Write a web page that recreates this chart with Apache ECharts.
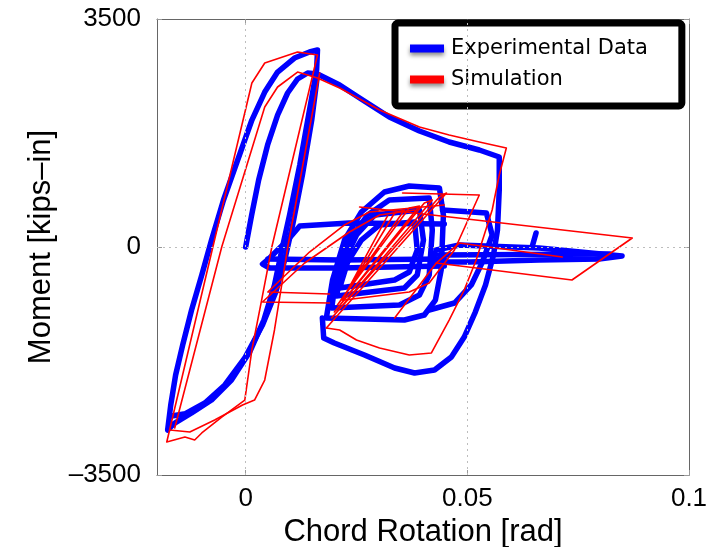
<!DOCTYPE html>
<html>
<head>
<meta charset="utf-8">
<script src="https://cdn.jsdelivr.net/npm/echarts@6/dist/echarts.min.js"></script>
<style>
  html, body { margin: 0; padding: 0; background: #fff; }
  #chart { width: 726px; height: 547px; }
</style>
</head>
<body>
<div id="chart"></div>
<script>
// --- Axis ticks ---
const xTicks = [0, 0.05, 0.1];
const yTicks = [-3500, 0, 3500];

// --- Experimental data (rotation rad, moment kips-in), traced segments ---
const expRise = [
  [0, 0], [0.00135, 491], [0.00293, 1028], [0.00495, 1566], [0.0072, 2026], [0.00946, 2364],
  [0.0117, 2579], [0.01396, 2671], [0.0162, 2656], [0.0212, 2487], [0.0257, 2287], [0.0324, 1996],
  [0.0392, 1781], [0.0459, 1612], [0.0527, 1489], [0.0572, 1382], [0.0572, 875], [0.0568, 261],
  [0.0559, -123], [0.0541, -583], [0.0518, -998], [0.0493, -1382], [0.0464, -1689], [0.0426, -1888],
  [0.0381, -1934], [0.0336, -1857], [0.0268, -1658], [0.0200, -1474], [0.0176, -1397], [0.0173, -1090]
];
const expBigLoop = [
  [0.0162, 3024], [0.016, 2717], [0.0144, 2103], [0.0122, 1259], [0.0099, 491], [0.0083, 0],
  [0.0065, -583], [0.0041, -1121], [0.0009, -1612], [-0.0032, -2042], [-0.0077, -2349],
  [-0.0122, -2548], [-0.016, -2702], [-0.0176, -2809], [-0.0169, -2425], [-0.0158, -1965],
  [-0.0142, -1504], [-0.0122, -967], [-0.0099, -430], [-0.0077, 107], [-0.005, 721],
  [-0.0018, 1335], [0.0014, 1949], [0.0043, 2379], [0.0072, 2686], [0.011, 2901],
  [0.0144, 2993], [0.0162, 3024]
];
const expDescent = [
  [0.0162, 2640], [0.0149, 1949], [0.0128, 1105], [0.0106, 338], [0.0088, -200], [0.0068, -691],
  [0.0038, -1197], [-0.0002, -1704], [-0.0047, -2118], [-0.0092, -2395], [-0.0137, -2563],
  [-0.0167, -2594], [-0.0126, -2548]
];
const expPinchLeft = [
  [0.0448, 353], [0.0234, 368], [0.0122, 322], [0.0095, 107], [0.0054, -169], [0.0038, -261],
  [0.0054, -322], [0.0212, -322], [0.0448, -292]
];
const expPinchLeft2 = [[0.005, -184], [0.0212, -200], [0.0448, -184]];
const expPinchRight = [
  [0.0421, -230], [0.043, -46], [0.0482, 31], [0.0662, -15], [0.0849, -138], [0.0797, -184],
  [0.0662, -200], [0.0505, -230], [0.0421, -230]
];
const expPinchRight2 = [[0.0437, -123], [0.0822, -107]];
const expSpike = [[0.0646, 0], [0.0655, 215]];
const expRightInner = [
  [0.0444, 568], [0.0543, 522], [0.0556, 184], [0.0534, -230], [0.0509, -583], [0.0471, -860],
  [0.0414, -967]
];
const expMid1 = [
  [0.0182, -1090], [0.0196, -507], [0.0223, 107], [0.0261, 537], [0.0313, 844], [0.0369, 936],
  [0.0437, 906], [0.0446, 491], [0.0441, -353], [0.0428, -814], [0.0403, -1044], [0.0358, -1121],
  [0.0182, -1090]
];
const expMid2 = [
  [0.0194, -936], [0.0205, -430], [0.0234, 107], [0.0275, 491], [0.0324, 721], [0.0414, 752],
  [0.0421, 261], [0.0414, -430], [0.0392, -737], [0.0347, -890], [0.0194, -936]
];
const expMid3 = [
  [0.0205, -752], [0.0218, -276], [0.025, 184], [0.0291, 491], [0.0392, 568], [0.0401, 107],
  [0.0387, -430], [0.0358, -629], [0.0205, -752]
];
const expMid4 = [
  [0.0212, -629], [0.023, -230], [0.0261, 107], [0.0302, 338], [0.0381, 384], [0.0387, -46],
  [0.0369, -384], [0.0336, -507], [0.0212, -629]
];

// --- Simulation (rotation rad, moment kips-in), traced segments ---
const simLoop1 = [
  [-0.0178, -2993], [-0.0074, 0], [0.0014, 2517], [0.0043, 2824], [0.0117, 2993], [0.0162, 2947],
  [0.0059, 0], [0.0036, -814], [0.0014, -1581], [-0.0002, -2349], [-0.0054, -2610],
  [-0.0099, -2855], [-0.0115, -2963], [-0.0137, -2917], [-0.0178, -2993]
];
const simLoop2 = [
  [-0.016, -2778], [-0.0054, 0], [0.0043, 2149], [0.0072, 2456], [0.0117, 2686], [0.0162, 2594],
  [0.0212, 2441], [0.0302, 2103], [0.0392, 1842], [0.0459, 1719], [0.0527, 1612], [0.0588, 1520],
  [0.0572, 1105], [0.0556, 568], [0.0538, 184], [0.052, -200], [0.0493, -660], [0.0459, -1121],
  [0.0419, -1627], [0.0369, -1658], [0.0302, -1550], [0.025, -1428], [0.0212, -1274], [0.0182, -1243]
];
const simDescent = [
  [0.0167, 2671], [0.0095, 0], [0.0065, -1274], [0.0043, -2042], [0.002, -2349], [-0.0007, -2425],
  [-0.007, -2656], [-0.0126, -2840], [-0.0171, -2809]
];
const simPinch1 = [[0.0189, -721], [0.005, -691], [0.0144, -77], [0.0223, 338], [0.0279, 537], [0.0448, 645]];
const simPinch2 = [[0.0189, -860], [0.0038, -844], [0.0133, -246], [0.0234, 230], [0.0302, 491], [0.0381, 568]];
const simFan = [
  [0.0182, -1243], [0.0453, 829], [0.0437, 768], [0.0194, -1090], [0.0421, 721], [0.0403, 675],
  [0.02, -998], [0.0392, 629], [0.0369, 599], [0.0207, -890], [0.0358, 568], [0.0336, 522],
  [0.0218, -814], [0.032, 476]
];
const simUpper = [[0.0354, 829], [0.0527, 798], [0.0471, -46], [0.0414, -553], [0.0369, -691], [0.0223, -814]];
const simRight = [[0.0336, -1090], [0.043, -246], [0.0736, -507], [0.0872, 138], [0.0421, 491], [0.0257, 614]];
const simRight2 = [[0.043, -246], [0.0482, 61], [0.0714, -154]];

const expSegments = [expRise, expBigLoop, expDescent, expPinchLeft, expPinchLeft2, expPinchRight,
  expPinchRight2, expSpike, expRightInner, expMid1, expMid2, expMid3, expMid4];
const simSegments = [simLoop1, simLoop2, simDescent, simPinch1, simPinch2, simFan, simUpper,
  simRight, simRight2];

const chart = echarts.init(document.getElementById('chart'));
const fontFamily = '"Liberation Sans", Arial, sans-serif';

function lineSeries(name, data, color, width, z) {
  return {
    name: name,
    type: 'line',
    data: data,
    showSymbol: false,
    symbol: 'none',
    smooth: false,
    silent: true,
    z: z,
    lineStyle: { color: color, width: width, cap: 'round', join: 'round' },
    itemStyle: { color: color }
  };
}

const series = [];
// dotted grid lines at tick positions
series.push({
  type: 'line',
  data: [],
  z: 0,
  silent: true,
  markLine: {
    silent: true,
    symbol: 'none',
    animation: false,
    label: { show: false },
    lineStyle: { color: '#bdbdbd', type: [2, 4], width: 1 },
    data: xTicks.slice(0, 2).map(v => ({ xAxis: v })).concat([{ yAxis: 0 }])
  }
});
expSegments.forEach(seg => series.push(lineSeries('Experimental Data', seg, '#0000ff', 5.5, 2)));
simSegments.forEach(seg => series.push(lineSeries('Simulation', seg, '#ff0000', 1.6, 3)));

const option = {
  animation: false,
  backgroundColor: '#fff',
  grid: { left: 157, right: 37, top: 19, bottom: 72, outerBoundsMode: 'none', containLabel: false },
  legend: {
    data: ['Experimental Data', 'Simulation'],
    orient: 'vertical',
    left: 395,
    top: 23,
    padding: [15, 34, 16, 15],
    itemGap: 10,
    itemWidth: 34,
    itemHeight: 8,
    icon: 'rect',
    backgroundColor: '#fff',
    borderColor: '#000',
    borderWidth: 7,
    borderRadius: 3,
    itemStyle: { shadowBlur: 4, shadowColor: 'rgba(0,0,0,0.45)', shadowOffsetY: 3 },
    textStyle: { fontFamily: '"DejaVu Sans", sans-serif', fontSize: 21, color: '#000', padding: [0, 0, 0, 2] }
  },
  xAxis: [{
    type: 'value',
    min: -0.02,
    max: 0.1,
    name: 'Chord Rotation [rad]',
    nameLocation: 'middle',
    nameGap: 39,
    nameTextStyle: { fontFamily: fontFamily, fontSize: 31, color: '#000' },
    axisLine: { show: true, onZero: false, lineStyle: { color: '#666', width: 1 } },
    axisTick: { show: true, inside: true, length: 5, customValues: xTicks, lineStyle: { color: '#999' } },
    axisLabel: { customValues: xTicks, fontFamily: fontFamily, fontSize: 26, color: '#000', margin: 11,
      formatter: v => String(v) },
    splitLine: { show: false }
  }, {
    type: 'value',
    position: 'top',
    min: -0.02,
    max: 0.1,
    axisLine: { show: true, onZero: false, lineStyle: { color: '#666', width: 1 } },
    axisTick: { show: true, inside: true, length: 5, customValues: xTicks, lineStyle: { color: '#999' } },
    axisLabel: { show: false },
    splitLine: { show: false }
  }],
  yAxis: [{
    type: 'value',
    min: yTicks[0],
    max: yTicks[2],
    interval: 3500,
    name: 'Moment [kips\u2013in]',
    nameLocation: 'middle',
    nameGap: 100,
    nameTextStyle: { fontFamily: fontFamily, fontSize: 31, color: '#000' },
    axisLine: { show: true, onZero: false, lineStyle: { color: '#666', width: 1 } },
    axisTick: { show: true, inside: true, length: 5, lineStyle: { color: '#999' } },
    axisLabel: { fontFamily: fontFamily, fontSize: 26, color: '#000', margin: 16,
      formatter: v => String(v).replace('-', '\u2013') },
    splitLine: { show: false }
  }, {
    type: 'value',
    position: 'right',
    min: yTicks[0],
    max: yTicks[2],
    interval: 3500,
    axisLine: { show: true, onZero: false, lineStyle: { color: '#666', width: 1 } },
    axisTick: { show: true, inside: true, length: 5, lineStyle: { color: '#999' } },
    axisLabel: { show: false },
    splitLine: { show: false }
  }],
  series: series
};

chart.setOption(option);
window.addEventListener('resize', function () { chart.resize(); });
</script>
</body>
</html>
